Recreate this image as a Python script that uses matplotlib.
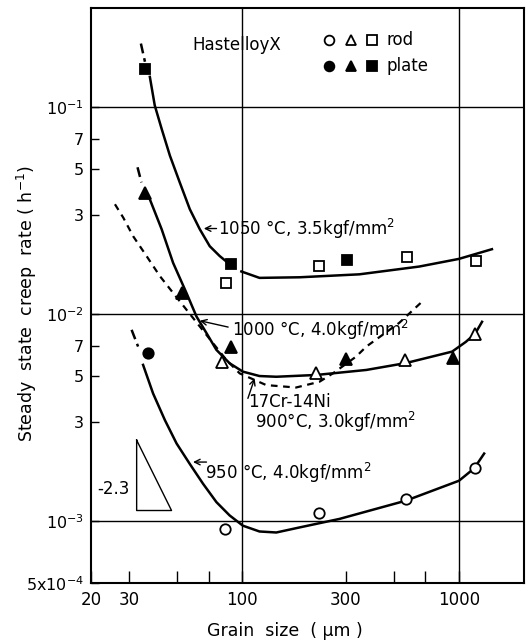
import matplotlib
matplotlib.use('Agg')
import matplotlib.pyplot as plt

# data (grain size in um, creep rate in 1/h)
# 1050 C, 3.5 kgf/mm2 (squares)
sq_rod_x = [83.8, 225, 578, 1197]
sq_rod_y = [0.0141, 0.0170, 0.0188, 0.0179]
sq_plate_x = [35.7, 89, 305]
sq_plate_y = [0.153, 0.0173, 0.0182]

# 1000 C, 4.0 kgf/mm2 (triangles)
tri_rod_x = [80.9, 220, 566, 1186]
tri_rod_y = [0.00585, 0.00517, 0.00596, 0.0080]
tri_plate_x = [35.5, 52.9, 89, 301, 942]
tri_plate_y = [0.0385, 0.0126, 0.00692, 0.00607, 0.0061]

# 950 C, 4.0 kgf/mm2 (circles)
cir_rod_x = [82.9, 225, 570, 1186]
cir_rod_y = [0.000911, 0.00109, 0.00127, 0.00179]
cir_plate_x = [36.7]
cir_plate_y = [0.00645]

# curves as drawn in the figure
c1050_top_x = [34.0, 35.5]
c1050_top_y = [0.202, 0.165]
c1050_a_x = [37.4, 39.4, 42.4, 46.3, 51.4, 57.2, 63.6, 70.7, 78.6, 85.9]
c1050_a_y = [0.1394, 0.1015, 0.0782, 0.0580, 0.0431, 0.0320, 0.0256, 0.0212, 0.0190, 0.0176]
c1050_b_x = [99.0, 120, 184, 347, 656, 1000, 1422]
c1050_b_y = [0.0160, 0.0149, 0.0150, 0.0155, 0.0169, 0.0184, 0.0205]

c1000_top_x = [32.8, 34.2]
c1000_top_y = [0.0510, 0.0431]
c1000_x = [37.4, 42.4, 47.9, 55.2, 61.4, 68.3, 75.9, 87.4, 100.6, 120, 143.5,
           220, 374, 571, 931, 1077, 1189, 1280]
c1000_y = [0.0357, 0.0256, 0.0176, 0.0126, 0.00970, 0.00806, 0.00669, 0.00576,
           0.00525, 0.00500, 0.00496, 0.00506, 0.00535, 0.00578, 0.00656,
           0.00731, 0.0080, 0.00914]

ni_x = [25.8, 28.2, 31.3, 36.1, 41.6, 47.9, 55.2, 63.6, 73.2, 84.4, 97.2,
        129, 177, 227, 262, 335, 374, 531, 668]
ni_y = [0.0338, 0.0291, 0.0237, 0.0190, 0.0152, 0.0126, 0.01046, 0.00868,
        0.00721, 0.00598, 0.00515, 0.00452, 0.00440, 0.00469, 0.00515,
        0.0062, 0.00694, 0.00904, 0.0113]

c950_top_x = [30.8, 33.0]
c950_top_y = [0.00836, 0.00694]
c950_x = [34.8, 38.7, 43.9, 49.7, 57.2, 65.8, 75.9, 87.4, 100.6, 120, 143.5,
          184, 281, 570, 1002, 1177, 1309]
c950_y = [0.00566, 0.00412, 0.00306, 0.00236, 0.00188, 0.00151, 0.00123,
          0.00106, 0.000946, 0.000887, 0.000877, 0.000928, 0.00102, 0.00125,
          0.00156, 0.00179, 0.00211]

# slope triangle
slope_x = [32.5, 32.5, 47.1, 32.5]
slope_y = [0.00245, 0.00112, 0.00112, 0.00245]

xticks = [20, 30, 50, 70, 100, 300, 500, 700, 1000]
xticklabels = ['20', '30', '', '', '100', '300', '', '', '1000']
yticks = [5e-4, 1e-3, 3e-3, 5e-3, 7e-3, 1e-2, 3e-2, 5e-2, 7e-2, 1e-1]
yticklabels = ['5x10$^{-4}$', '10$^{-3}$', '3', '5', '7', '10$^{-2}$',
               '3', '5', '7', '10$^{-1}$']

plt.rcParams['font.family'] = 'DejaVu Sans'
plt.rcParams['mathtext.default'] = 'regular'

fig = plt.figure(figsize=(5.26, 6.44), dpi=100)
ax = fig.add_axes([91 / 526, 1 - 583 / 644, 433 / 526, 575 / 644])
ax.set_xscale('log')
ax.set_yscale('log')
ax.set_xlim(20, 2000)
ax.set_ylim(5e-4, 0.3)

# grid lines at decades
for gx in [100, 1000]:
    ax.axvline(gx, color='black', lw=1.0, zorder=1)
for gy in [1e-3, 1e-2, 1e-1]:
    ax.axhline(gy, color='black', lw=1.0, zorder=1)

lw = 1.8
dash = (0, (4, 2))
ax.plot(c1050_top_x, c1050_top_y, color='black', lw=lw, ls=dash)
ax.plot(c1050_a_x, c1050_a_y, color='black', lw=lw)
ax.plot(c1050_b_x, c1050_b_y, color='black', lw=lw)
ax.plot(c1000_top_x, c1000_top_y, color='black', lw=lw, ls=dash)
ax.plot(c1000_x, c1000_y, color='black', lw=lw)
ax.plot(ni_x, ni_y, color='black', lw=1.6, ls=(0, (3, 2.5)))
ax.plot(c950_top_x, c950_top_y, color='black', lw=lw, ls=dash)
ax.plot(c950_x, c950_y, color='black', lw=lw)
ax.plot(slope_x, slope_y, color='black', lw=1.0)

ms = 7.5
mk = dict(ls='none', color='black', mew=1.3, zorder=5)
ax.plot(sq_rod_x, sq_rod_y, marker='s', ms=ms, mfc='white', **mk)
ax.plot(sq_plate_x, sq_plate_y, marker='s', ms=ms, mfc='black', **mk)
ax.plot(tri_rod_x, tri_rod_y, marker='^', ms=ms + 1, mfc='white', **mk)
ax.plot(tri_plate_x, tri_plate_y, marker='^', ms=ms + 1, mfc='black', **mk)
ax.plot(cir_rod_x, cir_rod_y, marker='o', ms=ms, mfc='white', **mk)
ax.plot(cir_plate_x, cir_plate_y, marker='o', ms=ms, mfc='black', **mk)

# legend-like key
fs = 12
for sx, m in zip([252, 316, 399], ['o', '^', 's']):
    ax.plot([sx], [0.209], marker=m, ms=7, mfc='white', color='black', mew=1.3, ls='none')
    ax.plot([sx], [0.158], marker=m, ms=7, mfc='black', color='black', mew=1.3, ls='none')
ax.text(463, 0.209, 'rod', fontsize=fs, va='center', ha='left')
ax.text(463, 0.158, 'plate', fontsize=fs, va='center', ha='left')
ax.text(94, 0.198, 'HastelloyX', fontsize=fs, va='center', ha='center')

arrow = dict(arrowstyle='->', lw=1.0, color='black', shrinkA=0, shrinkB=0)
ax.text(77, 0.0258, '1050 °C, 3.5kgf/mm$^2$', fontsize=fs, va='center', ha='left')
ax.annotate('', xy=(66.4, 0.0258), xytext=(76, 0.0258), arrowprops=arrow)
ax.text(89.3, 0.00836, '1000 °C, 4.0kgf/mm$^2$', fontsize=fs, va='center', ha='left')
ax.annotate('', xy=(63.6, 0.00925), xytext=(86, 0.00862), arrowprops=arrow)
ax.text(106, 0.00374, '17Cr-14Ni', fontsize=fs, va='center', ha='left')
ax.text(114, 0.00299, '900°C, 3.0kgf/mm$^2$', fontsize=fs, va='center', ha='left')
ax.annotate('', xy=(114, 0.00487), xytext=(106.1, 0.0039), arrowprops=arrow)
ax.text(67, 0.00171, '950 °C, 4.0kgf/mm$^2$', fontsize=fs, va='center', ha='left')
ax.annotate('', xy=(59.2, 0.00192), xytext=(68.3, 0.00192), arrowprops=arrow)
ax.text(25.5, 0.00143, '-2.3', fontsize=fs, va='center', ha='center')

ax.set_xticks(xticks)
ax.set_xticklabels(xticklabels)
ax.set_yticks(yticks)
ax.set_yticklabels(yticklabels)
ax.minorticks_off()
ax.tick_params(axis='x', direction='in', length=9, width=1.0, labelsize=12, pad=6)
ax.tick_params(axis='y', direction='in', length=6, width=1.0, labelsize=11.5, pad=5)
for s in ax.spines.values():
    s.set_linewidth(1.5)

ax.set_xlabel('Grain  size  ( μm )', fontsize=12.5, va='center')
ax.xaxis.set_label_coords((285 - 91) / 433, (583 - 631) / 575)
ax.set_ylabel('Steady  state  creep  rate ( h$^{-1}$)', fontsize=12.5, va='center')
ax.yaxis.set_label_coords((27 - 91) / 433, (583 - 304) / 575)

fig.savefig('out.png', dpi=100)
